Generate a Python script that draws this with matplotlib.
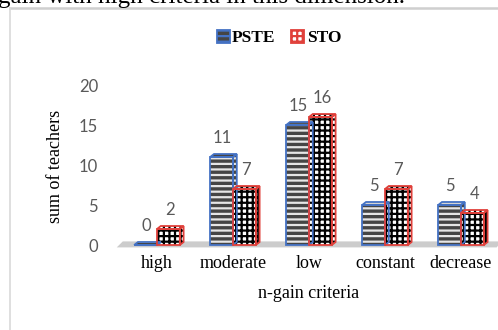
import matplotlib
matplotlib.use("Agg")
import matplotlib.pyplot as plt
from matplotlib.patches import Polygon, Rectangle
from matplotlib.lines import Line2D
import numpy as np

# data
criteria = ["high", "moderate", "low", "constant", "decrease"]
pste = [0, 11, 15, 5, 5]
sto = [2, 7, 16, 7, 4]
yticks = [0, 5, 10, 15, 20]

blue = '#4472c4'
red = '#e0403a'
gray_txt = '#595959'
serif = 'Liberation Serif'
sans = 'Lato'

plt.rcParams['hatch.linewidth'] = 1.6

fig = plt.figure(figsize=(4.98, 3.3), dpi=100)
fig.patch.set_facecolor('white')

# bit of the document text above the chart, cut by the screenshot
fig.text(-0.004, 1 - 3/330, "gain with high criteria in this dimension.",
         fontsize=18, family=serif, va='baseline', ha='left')

# chart box border (top + left)
fig.add_artist(Line2D([10/498, 1], [1 - 8/330, 1 - 8/330], color='#cfcfcf', lw=1.8))
fig.add_artist(Line2D([10/498, 10/498], [0, 1 - 8/330], color='#d9d9d9', lw=1.2))

ax = fig.add_axes([119/498, 85/330, 380/498, 160/330])
ax.set_xlim(-0.5, 4.5)
ax.set_ylim(0, 20)
for s in ax.spines.values():
    s.set_visible(False)

w = 0.30
dx = 0.05   # fake 3d depth
dy = 0.375


def fake3d_bar(x0, h, face, hatch_col, hatch, edge):
    x1 = x0 + w
    top = [(x0, h), (x1, h), (x1 + dx, h + dy), (x0 + dx, h + dy)]
    side = [(x1, 0), (x1 + dx, dy), (x1 + dx, h + dy), (x1, h)]
    front = [(x0, 0), (x1, 0), (x1, h), (x0, h)]
    for pts in (side, top, front):
        ax.add_patch(Polygon(pts, closed=True, facecolor=face, edgecolor=hatch_col,
                             hatch=hatch, lw=0, zorder=3, clip_on=False))
        ax.add_patch(Polygon(pts, closed=True, fill=False, edgecolor=edge,
                             lw=1.3, zorder=4, clip_on=False))


# the grey floor
ax.add_patch(Polygon([(-0.53, -0.3), (4.47, -0.3), (4.53, 0.45), (-0.45, 0.45)],
                     closed=True, facecolor='#cccccc', edgecolor='none', zorder=1,
                     clip_on=False))

x = np.arange(len(criteria))
for i in range(len(criteria)):
    fake3d_bar(x[i] - w, pste[i], '#454545', '#e6e6e6', '---', blue)
    fake3d_bar(x[i], sto[i], 'white', 'black', '+++', red)
    ax.annotate(str(pste[i]), (x[i] - w/2 + dx/2, pste[i] + dy), xytext=(-1, 6),
                textcoords='offset points', ha='center', va='bottom',
                fontsize=12, family=sans, color=gray_txt)
    ax.annotate(str(sto[i]), (x[i] + w/2 + dx/2, sto[i] + dy), xytext=(0, 6),
                textcoords='offset points', ha='center', va='bottom',
                fontsize=12, family=sans, color=gray_txt)

ax.set_yticks(yticks)
ax.set_yticklabels([str(v) for v in yticks], fontsize=12, family=sans, color=gray_txt)
ax.set_xticks(x)
ax.set_xticklabels(criteria, fontsize=13, family=serif, color='black')
ax.tick_params(axis='y', length=0, pad=15)
ax.tick_params(axis='x', length=0, pad=7)

fig.text(309/498, 1 - 294/330, "n-gain criteria", fontsize=13, family=serif,
         ha='center', va='center')
fig.text(56/498, 1 - 166/330, "sum of teachers", fontsize=13, family=serif,
         ha='center', va='center', rotation=90)

# legend
h1 = Rectangle((0, 0), 1, 1, facecolor='#454545', edgecolor=blue, hatch='---', lw=1.3)
h2 = Rectangle((0, 0), 1, 1, facecolor='white', edgecolor=red, hatch='+++', lw=1.3)
fig.legend([h1, h2], ["PSTE", "STO"], loc='center', bbox_to_anchor=(279/498, 1 - 38/330),
           ncol=2, frameon=False, handlelength=0.75, handleheight=0.75,
           handletextpad=0.15, columnspacing=0.9,
           prop={'family': serif, 'weight': 'bold', 'size': 12.5})

fig.savefig("out.png", dpi=100)
